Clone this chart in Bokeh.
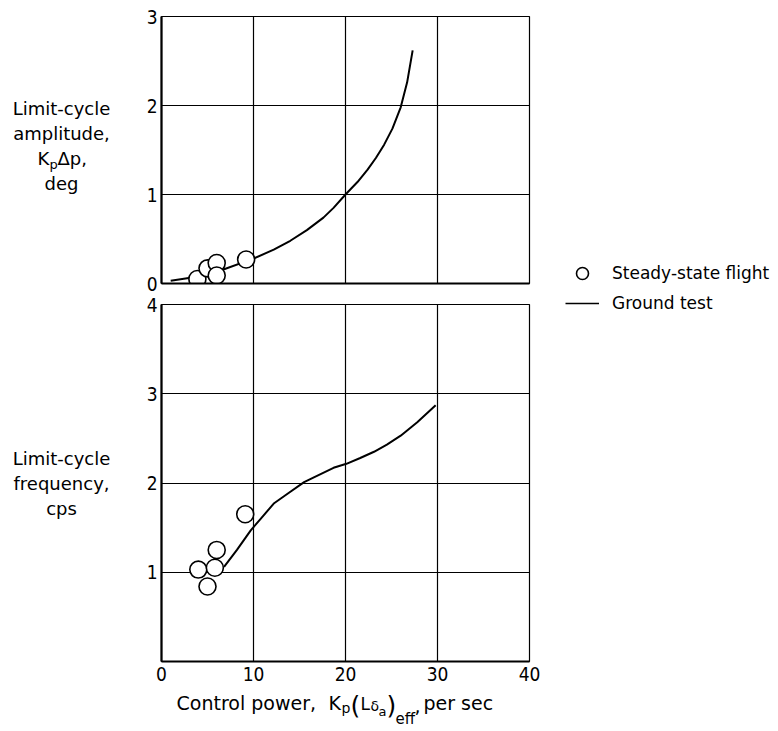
from bokeh.plotting import figure
from bokeh.layouts import row, column
from bokeh.models import Range1d, FixedTicker, Label, Legend, LegendItem
from bokeh.embed import file_html
from bokeh.resources import INLINE

TICK_FONT = "DejaVu Sans Condensed"
FONT = "DejaVu Sans"

# ---- data ----
x_ticks = [0, 10, 20, 30, 40]
amp_ticks = [0, 1, 2, 3]
freq_ticks = [1, 2, 3, 4]
grid_x = [10, 20, 30]

amp_flight_x = [3.9, 5.0, 6.0, 6.0, 9.2]
amp_flight_y = [0.05, 0.17, 0.23, 0.09, 0.27]
amp_ground_x = [1.0, 3.5, 6.8, 10.0, 12.2, 14.0, 15.8, 17.6, 18.7, 20.0, 21.3, 22.4,
                23.3, 24.2, 25.1, 26.0, 26.7, 27.3]
amp_ground_y = [0.03, 0.07, 0.16, 0.28, 0.38, 0.48, 0.60, 0.74, 0.85, 1.00, 1.14, 1.28,
                1.41, 1.56, 1.74, 1.98, 2.26, 2.62]

freq_flight_x = [4.0, 5.0, 5.8, 6.0, 9.1]
freq_flight_y = [1.03, 0.84, 1.05, 1.25, 1.65]
freq_ground_x = [6.8, 8.2, 9.7, 10.8, 12.2, 13.7, 15.5, 16.9, 18.7, 20.1, 21.6, 23.1,
                 24.5, 26.0, 27.8, 29.8]
freq_ground_y = [1.06, 1.25, 1.47, 1.60, 1.77, 1.88, 2.01, 2.08, 2.17, 2.215, 2.28, 2.35,
                 2.43, 2.53, 2.68, 2.87]

legend_labels = ["Steady-state flight", "Ground test"]


def style(p, yticks, xticks):
    p.outline_line_color = "black"
    p.outline_line_width = 1.2
    for ax in (p.xaxis[0], p.yaxis[0]):
        ax.axis_line_width = 2.2
        ax.axis_line_color = "black"
        ax.major_tick_in = 0
        ax.major_tick_out = 0
        ax.minor_tick_in = 0
        ax.minor_tick_out = 0
        ax.major_label_text_font = TICK_FONT
        ax.major_label_text_font_size = "19px"
        ax.major_label_text_color = "black"
    p.yaxis[0].ticker = FixedTicker(ticks=yticks)
    p.xaxis[0].ticker = FixedTicker(ticks=xticks)
    p.yaxis[0].major_label_standoff = 4
    p.xaxis[0].major_label_standoff = 5
    p.xgrid[0].ticker = FixedTicker(ticks=grid_x)
    p.ygrid[0].ticker = FixedTicker(ticks=[t for t in yticks if 0 < t < max(yticks)])
    for g in (p.xgrid[0], p.ygrid[0]):
        g.grid_line_color = "black"
        g.grid_line_width = 1.2


def text_fig(width, height):
    f = figure(width=width, height=height, min_border=0, output_backend="svg",
               toolbar_location=None, x_axis_location=None, y_axis_location=None,
               x_range=Range1d(0, 1), y_range=Range1d(0, 1))
    f.grid.visible = False
    f.outline_line_color = None
    return f


def lab(p, text, x, y, size="18px", align="center"):
    p.add_layout(Label(x=x, y=y, x_units="screen", y_units="screen", text=text,
                       text_font=FONT, text_font_size=size, text_align=align,
                       text_baseline="middle", text_color="black"))


# ---- y titles (left column) ----
yt = text_fig(125, 731)
lab(yt, "Limit-cycle", 61, 623)
lab(yt, "amplitude,", 61, 598)
lab(yt, "K", 37, 573, align="left")
lab(yt, "p", 49, 567, size="13px", align="left")
lab(yt, "\u0394p,", 57, 573, align="left")
lab(yt, "deg", 61, 548)
lab(yt, "Limit-cycle", 61, 273)
lab(yt, "frequency,", 61, 248)
lab(yt, "cps", 61, 223)

# ---- top panel ----
top = figure(frame_width=368, frame_height=267, min_border_left=36, min_border_right=12,
             min_border_top=16, min_border_bottom=11, output_backend="svg",
             toolbar_location=None, x_range=Range1d(0, 40), y_range=Range1d(0, 3))
style(top, amp_ticks, [])
top.line(amp_ground_x, amp_ground_y, line_color="black", line_width=2, line_join="round")
top.scatter(amp_flight_x, amp_flight_y, size=17, fill_color="white", line_color="black",
            line_width=1.6)

# ---- bottom panel ----
bot = figure(frame_width=368, frame_height=357, min_border_left=36, min_border_right=12,
             min_border_top=10, min_border_bottom=26, output_backend="svg",
             toolbar_location=None, x_range=Range1d(0, 40), y_range=Range1d(0, 4))
style(bot, freq_ticks, x_ticks)
bot.line(freq_ground_x, freq_ground_y, line_color="black", line_width=2, line_join="round")
bot.scatter(freq_flight_x, freq_flight_y, size=17, fill_color="white", line_color="black",
            line_width=1.6)

# ---- x title (below bottom panel; frame aligned with the panels above) ----
xt = text_fig(416, 44)
lab(xt, "Control power,", 15, 29, size="19px", align="left")
lab(xt, "K", 167, 29, size="19px", align="left")
lab(xt, "p", 180, 24, size="14px", align="left")
lab(xt, "(", 189, 26, size="25px", align="left")
lab(xt, "L", 199, 28, size="17px", align="left")
lab(xt, "\u03b4", 209, 26, size="14px", align="left")
lab(xt, "a", 217, 20, size="13px", align="left")
lab(xt, ")", 225, 26, size="25px", align="left")
lab(xt, "eff", 234, 13, size="15px", align="left")
lab(xt, ",", 253, 26, size="19px", align="left")
lab(xt, "per sec", 262, 29, size="19px", align="left")

# ---- legend (right column) ----
side = figure(width=237, height=731, min_border=0, output_backend="svg",
              toolbar_location=None, x_axis_location=None, y_axis_location=None,
              x_range=Range1d(100, 101), y_range=Range1d(100, 101))
side.grid.visible = False
side.outline_line_color = None
r1 = side.scatter(amp_flight_x, amp_flight_y, size=14, fill_color="white", line_color="black",
                  line_width=1.6)
r2 = side.line(amp_ground_x, amp_ground_y, line_color="black", line_width=1.5)
leg = Legend(items=[LegendItem(label=legend_labels[0], renderers=[r1]),
                    LegendItem(label=legend_labels[1], renderers=[r2])],
             location=(24, 413), glyph_width=34, glyph_height=30, label_height=30,
             spacing=0, padding=0, margin=0, label_standoff=13,
             label_text_font=FONT, label_text_font_size="17px", label_text_color="black",
             border_line_color=None, background_fill_alpha=0)
side.add_layout(leg)

layout = row(yt, column(top, bot, xt), side)
open("out.html", "w").write(file_html(layout, INLINE))
